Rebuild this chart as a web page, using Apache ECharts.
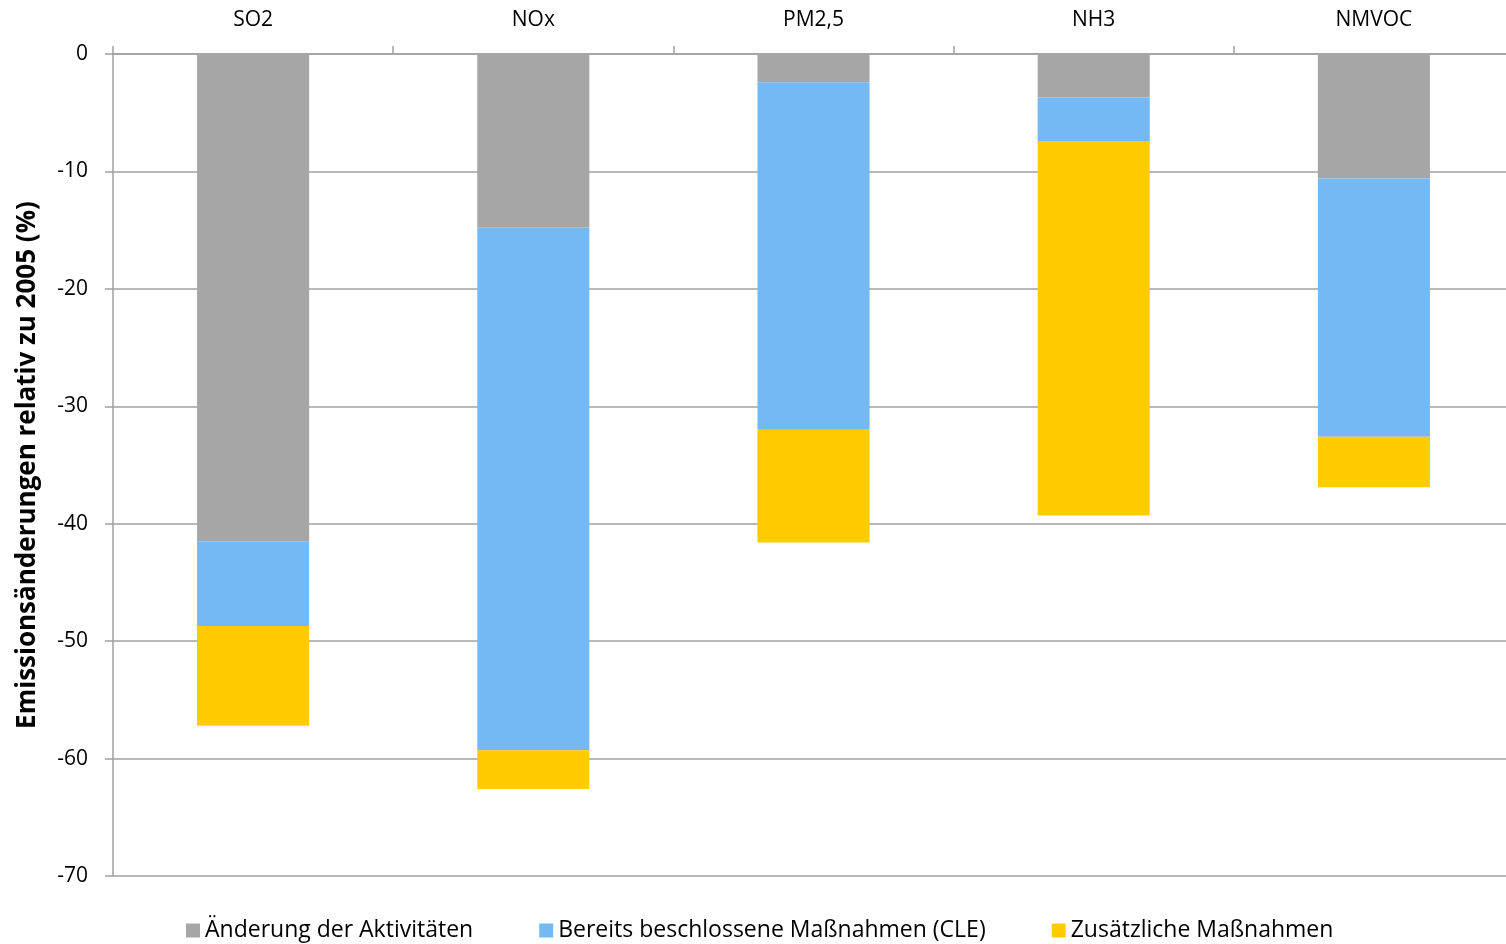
<!DOCTYPE html>
<html>
<head>
<meta charset="utf-8">
<script src="https://cdn.jsdelivr.net/npm/echarts@6/dist/echarts.min.js"></script>
<style>
html, body { margin: 0; padding: 0; background: #fff; }
#main { width: 1506px; height: 944px; }
</style>
</head>
<body>
<div id="main"></div>
<script>
// Schadstoffe
var categories = ['SO2', 'NOx', 'PM2,5', 'NH3', 'NMVOC'];
// Beiträge zur Emissionsänderung (%), gestapelt
var aktivitaeten = [-41.5, -14.8, -2.4, -3.7, -10.6];
var cle = [-7.2, -44.5, -29.6, -3.7, -22.0];
var zusaetzlich = [-8.5, -3.3, -9.6, -31.9, -4.3];
var seriesNames = ['Änderung der Aktivitäten', 'Bereits beschlossene Maßnahmen (CLE)', 'Zusätzliche Maßnahmen'];

var fontFamily = 'Open Sans';
var axisGray = '#a0a0a0';

var myChart = echarts.init(document.getElementById('main'));

function bar(name, data, color) {
	return {
		name: name,
		type: 'bar',
		stack: 'total',
		barWidth: '40%',
		data: data,
		itemStyle: { color: color }
	};
}

myChart.setOption({
	animation: false,
	textStyle: { fontFamily: fontFamily, color: '#000' },
	grid: {
		left: 113,
		width: 1401, // Plotfläche ragt rechts leicht über den Rand hinaus
		top: 54,
		bottom: 68,
		containLabel: false,
		outerBoundsMode: 'none'
	},
	legend: {
		bottom: -3,
		left: 181,
		itemWidth: 14,
		itemHeight: 14,
		itemGap: 66,
		icon: 'rect',
		textStyle: { fontSize: 23, color: '#000', fontFamily: fontFamily },
		data: seriesNames
	},
	xAxis: {
		type: 'category',
		position: 'top',
		data: categories,
		axisLine: { lineStyle: { color: axisGray, width: 1.5 } },
		axisTick: { show: true, length: 8, lineStyle: { color: axisGray, width: 1.5 } },
		axisLabel: { fontSize: 21, color: '#000', margin: 23 }
	},
	yAxis: {
		type: 'value',
		min: -70,
		max: 0,
		interval: 10,
		name: 'Emissionsänderungen relativ zu 2005 (%)',
		nameLocation: 'middle',
		nameGap: 72,
		nameTextStyle: { fontSize: 26, fontWeight: 'bold', color: '#000' },
		axisLine: { show: true, lineStyle: { color: axisGray, width: 1.5 } },
		axisTick: { show: true, length: 8, lineStyle: { color: axisGray, width: 1.5 } },
		axisLabel: { fontSize: 21, color: '#000', margin: 25 },
		splitLine: { lineStyle: { color: axisGray, width: 1.5 } }
	},
	series: [
		bar(seriesNames[0], aktivitaeten, '#a6a6a6'),
		bar(seriesNames[1], cle, '#74b9f3'),
		bar(seriesNames[2], zusaetzlich, '#ffcc00')
	]
});
</script>
</body>
</html>
